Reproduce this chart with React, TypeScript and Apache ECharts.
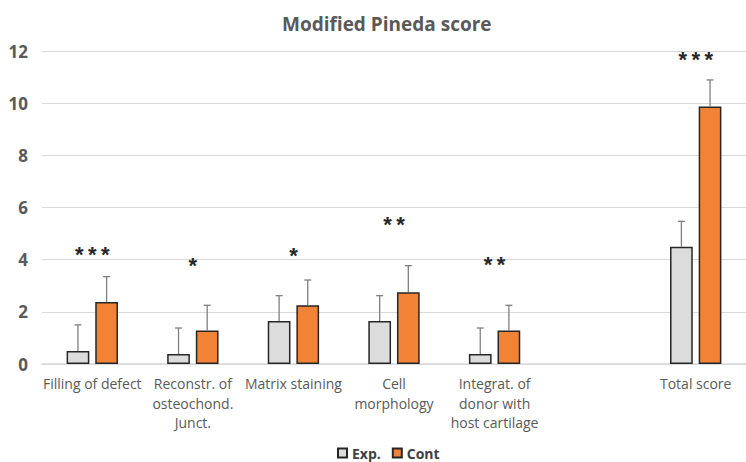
import React, { useEffect, useRef } from "react";
import * as echarts from "echarts";

const categories = [
  "Filling of defect",
  "Reconstr. of\nosteochond.\nJunct.",
  "Matrix staining",
  "Cell\nmorphology",
  "Integrat. of\ndonor with\nhost cartilage",
  "",
  "Total score",
];
const expValues = [0.5, 0.38, 1.65, 1.65, 0.38, null, 4.5];
const expErrors = [1.0, 1.0, 0.97, 0.97, 1.0, null, 0.97];
const contValues = [2.38, 1.28, 2.25, 2.75, 1.28, null, 9.87];
const contErrors = [0.97, 0.97, 0.97, 1.02, 0.97, null, 1.02];
const sigLabels = ["***", "*", "*", "**", "**", "", "***"];
const sigY = [4.25, 3.8, 4.2, 5.4, 3.87, null, 11.7];
const yTicks = { min: 0, max: 12, interval: 2 };

const BAR_FRAC = 0.226;
const GAP_FRAC = 0.26;

function errorSeries(values: (number | null)[], errors: (number | null)[], side: number) {
  const data = values.map((v, i) => [i, v, errors[i]]);
  return {
    type: "custom",
    silent: true,
    z: 5,
    data: data.filter((d) => d[1] != null),
    renderItem: (params: any, api: any) => {
      const idx = api.value(0);
      const v = api.value(1);
      const e = api.value(2);
      const band = api.size([1, 0])[0];
      const bw = band * BAR_FRAC;
      const off = side * (bw + bw * GAP_FRAC) / 2;
      const p0 = api.coord([idx, v]);
      const p1 = api.coord([idx, v + e]);
      const x = p0[0] + off;
      const style = { stroke: "#7f7f7f", lineWidth: 1.3 };
      return {
        type: "group",
        children: [
          { type: "line", shape: { x1: x, y1: p0[1], x2: x, y2: p1[1] }, style },
          { type: "line", shape: { x1: x - 3.5, y1: p1[1], x2: x + 3.5, y2: p1[1] }, style },
        ],
      };
    },
  };
}

export default function App() {
  const ref = useRef<HTMLDivElement>(null);
  useEffect(() => {
    if (!ref.current) return;
    document.body.style.margin = "0";
    const chart = echarts.init(ref.current, undefined, { renderer: "svg" });
    const labelFont = "'Liberation Sans Narrow', 'Arial Narrow', 'Open Sans', sans-serif";
    chart.setOption({
      animation: false,
      backgroundColor: "#ffffff",
      title: {
        text: "Modified Pineda score",
        left: 277,
        top: 9,
        textStyle: {
          fontSize: 19,
          fontWeight: "bold",
          color: "#595959",
          fontFamily: labelFont,
        },
      },
      legend: {
        data: ["Exp.", "Cont"],
        left: 332,
        top: 441,
        itemWidth: 9,
        itemHeight: 9,
        itemGap: 11,
        icon: "rect",
        textStyle: { fontSize: 14, fontWeight: "bold", color: "#404040", fontFamily: labelFont },
      },
      grid: { left: 42, top: 51, width: 711, height: 313 },
      xAxis: {
        type: "category",
        data: categories,
        axisTick: { show: false },
        axisLine: { lineStyle: { color: "#d9d9d9", width: 1.5 } },
        axisLabel: {
          interval: 0,
          fontSize: 14,
          lineHeight: 19.5,
          color: "#595959",
          margin: 10,
          fontFamily: labelFont,
        },
      },
      yAxis: {
        type: "value",
        min: yTicks.min,
        max: yTicks.max,
        interval: yTicks.interval,
        axisLine: { show: false },
        axisTick: { show: false },
        splitLine: { lineStyle: { color: "#d9d9d9", width: 1 } },
        axisLabel: {
          fontSize: 17,
          fontWeight: "bold",
          color: "#595959",
          margin: 14,
          fontFamily: labelFont,
        },
      },
      series: [
        {
          name: "Exp.",
          type: "bar",
          data: expValues,
          barWidth: BAR_FRAC * 100 + "%",
          barGap: GAP_FRAC * 100 + "%",
          itemStyle: { color: "#dcdcdc", borderColor: "#262626", borderWidth: 1.5 },
        },
        {
          name: "Cont",
          type: "bar",
          data: contValues,
          barWidth: BAR_FRAC * 100 + "%",
          barGap: GAP_FRAC * 100 + "%",
          itemStyle: { color: "#f28236", borderColor: "#262626", borderWidth: 1.5 },
        },
        errorSeries(expValues, expErrors, -1),
        errorSeries(contValues, contErrors, 1),
        {
          type: "custom",
          silent: true,
          z: 6,
          data: sigY.map((y, i) => [i, y]).filter((d) => d[1] != null),
          renderItem: (params: any, api: any) => {
            const idx = api.value(0);
            const p = api.coord([idx, api.value(1)]);
            const stars = sigLabels[idx].split("");
            const step = 13;
            return {
              type: "group",
              children: stars.map((s, k) => ({
                type: "text",
                x: p[0] + (k - (stars.length - 1) / 2) * step,
                y: p[1] + 1,
                style: {
                  text: s,
                  fill: "#262626",
                  font: "bold 22px 'Liberation Sans', Arial, sans-serif",
                  align: "center",
                  verticalAlign: "middle",
                },
              })),
            };
          },
        },
      ],
    });
    return () => chart.dispose();
  }, []);
  return <div ref={ref} style={{ width: 746, height: 462 }} />;
}
